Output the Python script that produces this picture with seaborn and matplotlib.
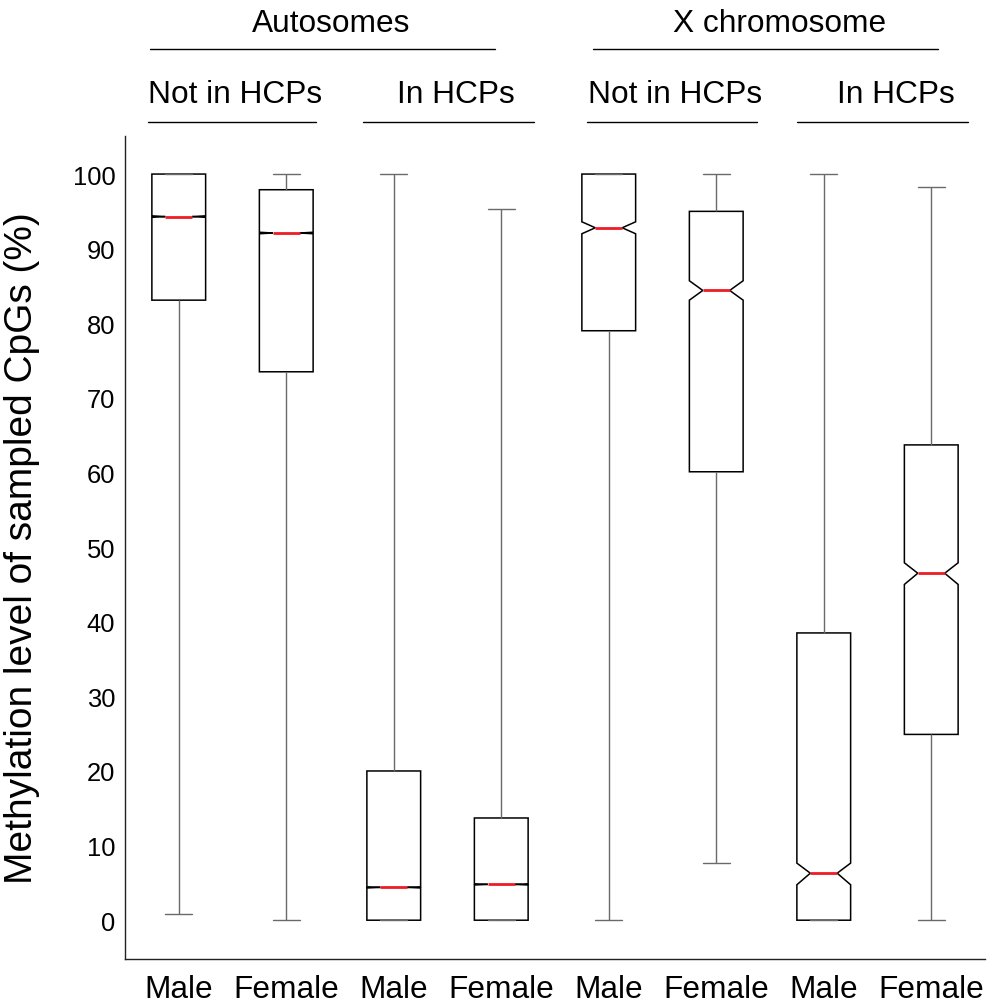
import numpy as np
import pandas as pd
import matplotlib
matplotlib.use("Agg")
import matplotlib.pyplot as plt
import matplotlib.transforms as mtransforms
import seaborn as sns

# ---------------- data ----------------
box_ids = ["Auto-Not-Male", "Auto-Not-Female", "Auto-In-Male", "Auto-In-Female",
           "X-Not-Male", "X-Not-Female", "X-In-Male", "X-In-Female"]
tick_labels = ["Male", "Female", "Male", "Female", "Male", "Female", "Male", "Female"]
whisker_low = [0.8, 0.0, 0.0, 0.0, 0.0, 7.7, 0.0, 0.0]
q1_values = [83.1, 73.5, 0.0, 0.0, 79.0, 60.1, 0.0, 24.9]
median_values = [94.3, 92.1, 4.4, 4.8, 92.8, 84.4, 6.3, 46.5]
q3_values = [100.0, 97.9, 20.0, 13.7, 100.0, 95.0, 38.5, 63.7]
whisker_high = [100.0, 100.0, 100.0, 95.3, 100.0, 100.0, 100.0, 98.3]
notch_low = [94.2, 92.0, 4.32, 4.72, 92.0, 83.1, 4.75, 45.0]
notch_high = [94.4, 92.2, 4.48, 4.88, 93.6, 85.7, 7.65, 47.9]

region_labels = ["Autosomes", "X chromosome"]
region_centers = [1.42, 5.59]
region_spans = [(-0.27, 2.94), (3.85, 7.06)]
subset_labels = ["Not in HCPs", "In HCPs", "Not in HCPs", "In HCPs"]
subset_centers = [0.52, 2.58, 4.62, 6.67]
subset_spans = [(-0.29, 1.28), (1.71, 3.30), (3.80, 5.38), (5.75, 7.34)]

y_ticks = list(range(0, 101, 10))

# ---------------- long-form table built from the arrays ----------------
rows = []
for bid, lo, q1, md, q3, hi in zip(box_ids, whisker_low, q1_values,
                                   median_values, q3_values, whisker_high):
    for v in (lo, q1, md, q3, hi):
        rows.append({"box": bid, "value": v})
df = pd.DataFrame(rows)

stats = []
for bid, lo, q1, md, q3, hi, cl, ch in zip(box_ids, whisker_low, q1_values,
                                           median_values, q3_values, whisker_high,
                                           notch_low, notch_high):
    stats.append(dict(label=bid, whislo=lo, q1=q1, med=md, q3=q3, whishi=hi,
                      cilo=cl, cihi=ch, fliers=np.array([]), mean=md,
                      iqr=q3 - q1))

# ---------------- style ----------------
sns.set_style("white")
plt.rcParams["font.family"] = ["Liberation Sans", "DejaVu Sans"]
plt.rcParams["text.color"] = "black"
plt.rcParams["axes.labelcolor"] = "black"
plt.rcParams["xtick.color"] = "black"
plt.rcParams["ytick.color"] = "black"

fig = plt.figure(figsize=(9.9, 10.04), dpi=100)
ax = fig.add_axes([125 / 990, 1 - 960 / 1004, (985 - 125) / 990, (960 - 137) / 1004])

sns.boxplot(data=df, x="box", y="value", order=box_ids, ax=ax,
            width=0.5, whis=(0, 100), notch=True, color="white",
            linecolor="black", linewidth=1.0, fliersize=0,
            bxpstats=stats,
            boxprops=dict(edgecolor="black", facecolor="white", linewidth=1.1),
            medianprops=dict(color="#ee1c25", linewidth=2.0),
            whiskerprops=dict(color="#6a6a6a", linewidth=1.0),
            capprops=dict(color="#6a6a6a", linewidth=1.0))

ax.set_xlim(-0.5, 7.5)
ax.set_ylim(-5.2, 105.1)
ax.set_yticks(y_ticks)
ax.set_yticklabels([str(t) for t in y_ticks], fontsize=18.4)
ax.set_xticks(range(len(box_ids)))
ax.set_xticklabels(tick_labels, fontsize=22.8)
ax.tick_params(axis="y", length=0, pad=7, colors="black")
ax.tick_params(axis="x", length=0, pad=10.5, colors="black")
ax.set_xlabel("")
ax.set_ylabel("Methylation level of sampled CpGs (%)", fontsize=28, color="black")
ax.yaxis.set_label_coords(-0.099, 0.5)

for side in ("top", "right"):
    ax.spines[side].set_visible(False)
for side in ("left", "bottom"):
    ax.spines[side].set_color("#222222")
    ax.spines[side].set_linewidth(1.0)

# ---------------- header labels and rules ----------------
trans = mtransforms.blended_transform_factory(ax.transData, fig.transFigure)


def fy(px):
    return 1 - px / 1004


for lab, cx in zip(region_labels, region_centers):
    ax.text(cx, fy(32), lab, transform=trans, ha="center", va="baseline",
            fontsize=22.8, color="black", clip_on=False)
for (a, b) in region_spans:
    ax.plot([a, b], [fy(50), fy(50)], transform=trans, color="black",
            linewidth=1.0, clip_on=False)
for lab, cx in zip(subset_labels, subset_centers):
    ax.text(cx, fy(103), lab, transform=trans, ha="center", va="baseline",
            fontsize=22.8, color="black", clip_on=False)
for (a, b) in subset_spans:
    ax.plot([a, b], [fy(123), fy(123)], transform=trans, color="black",
            linewidth=1.0, clip_on=False)

fig.savefig("out.png", dpi=100)
